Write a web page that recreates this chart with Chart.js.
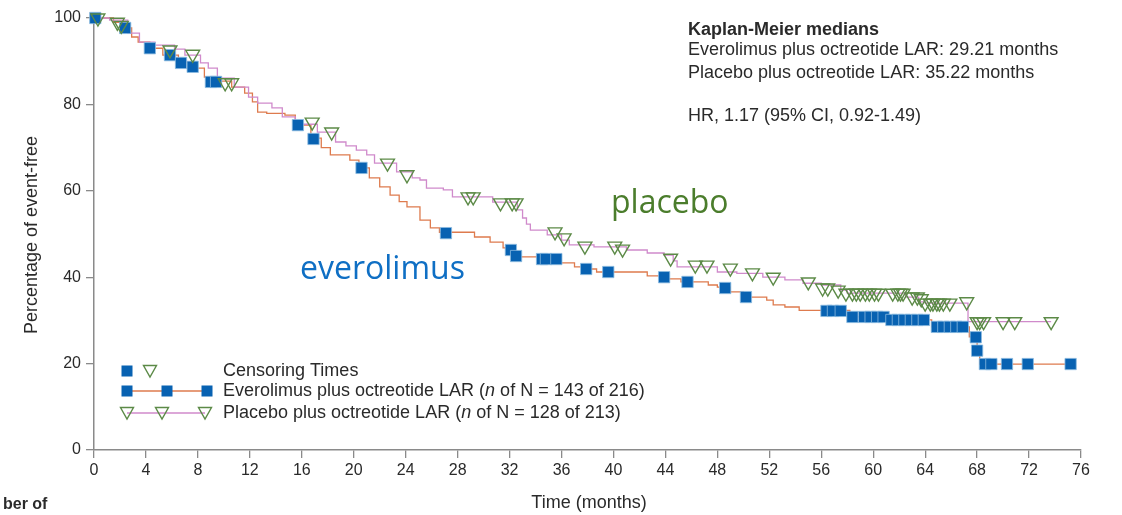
<!DOCTYPE html>
<html>
<head>
<meta charset="utf-8">
<script src="https://cdn.jsdelivr.net/npm/chart.js@4"></script>
<style>
  html, body { margin: 0; padding: 0; background: #fff; }
  #wrap { width: 1122px; height: 515px; }
</style>
</head>
<body>
<div id="wrap"><canvas id="kmChart" width="1122" height="515"></canvas></div>
<script>
// ---------------- DATA ----------------
const xTicks = [0, 4, 8, 12, 16, 20, 24, 28, 32, 36, 40, 44, 48, 52, 56, 60, 64, 68, 72, 76];
const yTicks = [0, 20, 40, 60, 80, 100];

// everolimus step curve (time in months, % event-free after the step)
const evTime = [0, 1.5, 2.4, 2.9, 3.4, 4.3, 5.3, 6.5, 7.6, 8.5, 9.0, 10.6, 11.6, 12.2, 12.6, 13.3, 14.7, 15.5, 16.7, 17.5,
  18.2, 19.7, 20.4, 21.2, 22.0, 22.8, 23.5, 24.1, 25.1, 25.9, 26.6, 29.3, 30.5, 31.5, 32.3, 35.9, 37.0, 37.7, 38.7, 42.6,
  44.2, 45.2, 47.3, 48.0, 49.0, 50.0, 51.8, 52.3, 53.2, 54.3, 58.2, 61.2, 64.5, 67.4, 68.0, 68.2, 75.2];
const evSurv = [100, 99.0, 97.7, 95.6, 94.4, 93.0, 91.4, 89.8, 88.4, 86.3, 85.4, 84.0, 82.6, 80.6, 78.2, 77.9, 77.5, 75.2, 72.2, 70.0,
  68.3, 67.1, 65.3, 63.0, 60.9, 59.0, 57.5, 56.3, 53.2, 51.4, 50.4, 49.3, 48.1, 46.8, 44.7, 43.3, 42.4, 41.9, 41.2, 40.3,
  39.6, 38.9, 38.2, 37.7, 36.6, 35.4, 34.7, 33.6, 33.1, 32.3, 30.8, 30.1, 28.5, 26.2, 23.0, 19.9, 19.9];

// placebo step curve
const pbTime = [0, 1.2, 2.6, 3.5, 4.7, 6.2, 7.0, 8.2, 8.8, 9.5, 10.8, 11.9, 12.6, 13.7, 14.5, 15.5, 17.2, 18.6, 19.4, 20.2,
  21.0, 21.6, 23.3, 24.5, 25.1, 25.6, 26.9, 27.6, 30.7, 32.6, 33.0, 33.3, 33.6, 34.9, 36.0, 36.6, 38.5, 41.0, 42.6, 43.9,
  44.6, 44.9, 48.0, 49.5, 51.5, 53.2, 54.6, 56.0, 57.5, 58.0, 62.5, 63.5, 64.0, 67.3, 73.7];
const pbSurv = [100, 99.5, 96.5, 94.4, 93.7, 92.8, 91.4, 89.6, 88.4, 86.1, 84.0, 81.7, 80.3, 79.2, 77.1, 75.4, 73.6, 71.3, 70.4, 69.4,
  68.3, 66.4, 64.4, 63.0, 62.5, 60.6, 60.2, 58.6, 57.4, 55.6, 53.7, 52.3, 50.9, 49.8, 48.6, 47.5, 47.0, 46.3, 45.6, 45.1,
  43.8, 42.4, 41.2, 40.9, 40.0, 39.4, 38.6, 38.2, 37.0, 36.3, 35.4, 34.3, 34.0, 29.7, 29.7];

// censoring marks
const evCensorTime = [0.1, 2.4, 4.3, 5.85, 6.7, 7.6, 9.0, 9.4, 15.7, 16.9, 20.6, 27.1, 32.1, 32.5, 34.5, 34.8, 35.6, 37.9, 39.6,
  43.9, 45.7, 48.6, 50.2, 56.4, 56.9, 57.5, 58.4, 59.3, 59.8, 60.3, 60.8, 61.4, 61.9, 62.4, 62.9, 63.4, 63.9, 64.9, 65.4,
  65.9, 66.4, 66.9, 67.9, 68.0, 68.6, 69.1, 70.3, 71.9, 75.2];
const evCensorSurv = [100, 97.7, 93.0, 91.4, 89.6, 88.7, 85.2, 85.2, 75.2, 72.0, 65.3, 50.2, 46.3, 44.9, 44.2, 44.2, 44.2, 41.9, 41.2,
  40.0, 38.9, 37.5, 35.4, 32.2, 32.2, 32.2, 30.8, 30.8, 30.8, 30.8, 30.8, 30.1, 30.1, 30.1, 30.1, 30.1, 30.1, 28.5, 28.5,
  28.5, 28.5, 28.5, 26.1, 23.0, 19.9, 19.9, 19.9, 19.9, 19.9];

const pbCensorTime = [0.3, 1.8, 2.1, 5.85, 7.6, 10.1, 10.6, 16.8, 18.3, 22.6, 24.1, 28.8, 29.2, 31.3, 32.2, 32.5, 35.5, 36.2, 37.8,
  40.1, 40.7, 44.4, 46.3, 47.2, 49.0, 50.7, 52.3, 55.0, 56.1, 56.5, 57.3, 57.9, 58.4, 58.7, 59.0, 59.4, 59.7, 60.1, 60.4,
  61.5, 61.9, 62.1, 62.3, 63.0, 63.4, 63.7, 64.0, 64.4, 64.6, 64.9, 65.1, 65.4, 65.9, 67.2, 68.0, 68.2, 68.5, 70.0, 70.9, 73.7];
const pbCensorSurv = [100, 99.0, 98.3, 92.6, 91.6, 85.0, 85.0, 75.9, 73.6, 66.4, 63.7, 58.6, 58.6, 57.2, 57.2, 57.2, 50.5, 49.1, 47.2,
  47.2, 46.5, 44.4, 42.8, 42.8, 42.1, 41.0, 40.0, 38.9, 37.5, 37.5, 37.0, 36.3, 36.3, 36.3, 36.3, 36.3, 36.3, 36.3, 36.3,
  36.3, 36.3, 36.3, 36.3, 35.4, 35.4, 35.0, 34.0, 34.0, 34.0, 34.0, 34.0, 34.0, 34.0, 34.3, 29.7, 29.7, 29.7, 29.7, 29.7, 29.7];

// ---------------- STYLE ----------------
const evLineColor = "#DE7B4E";
const pbLineColor = "#D08ACB";
const squareFill = "#0862B2";
const squareEdge = "#8DBBE0";
const triColor = "#5C8A47";
const axisColor = "#8A8A8A";
const textColor = "#2A2A2A";
const font = "'Liberation Sans', Arial, sans-serif";

function toPoints(xs, ys) {
    return xs.map((x, i) => ({ x: x, y: ys[i] }));
}

// ---------------- ANNOTATION PLUGIN ----------------
const annotations = {
    id: "annotations",
    afterDraw(chart) {
        const ctx = chart.ctx;
        ctx.save();
        ctx.fillStyle = textColor;
        ctx.textBaseline = "middle";

        // axis titles
        ctx.font = "18px " + font;
        ctx.textAlign = "center";
        ctx.fillText("Time (months)", 589, 503);
        ctx.save();
        ctx.translate(32, 235);
        ctx.rotate(-Math.PI / 2);
        ctx.fillText("Percentage of event-free", 0, 0);
        ctx.restore();

        ctx.textAlign = "left";
        ctx.font = "bold 16px " + font;
        ctx.fillText("ber of", 3, 505);

        // Kaplan-Meier medians box
        ctx.font = "bold 18px " + font;
        ctx.fillText("Kaplan-Meier medians", 688, 30);
        ctx.font = "18px " + font;
        ctx.fillText("Everolimus plus octreotide LAR: 29.21 months", 688, 50);
        ctx.fillText("Placebo plus octreotide LAR: 35.22 months", 688, 73);
        ctx.fillText("HR, 1.17 (95% CI, 0.92-1.49)", 688, 116);

        // big labels
        ctx.font = "32px 'Open Sans', sans-serif";
        ctx.fillStyle = "#0F6FC4";
        ctx.fillText("everolimus", 300, 270);
        ctx.fillStyle = "#4B7D2C";
        ctx.fillText("placebo", 611, 204);

        // legend
        const square = (x, y) => {
            ctx.fillStyle = squareFill;
            ctx.fillRect(x - 5.5, y - 5.5, 11, 11);
        };
        const tri = (x, y) => {
            ctx.strokeStyle = triColor;
            ctx.lineWidth = 1.4;
            ctx.beginPath();
            ctx.moveTo(x - 6.5, y - 5.5);
            ctx.lineTo(x + 6.5, y - 5.5);
            ctx.lineTo(x, y + 6);
            ctx.closePath();
            ctx.stroke();
        };
        const line = (x1, x2, y, c) => {
            ctx.strokeStyle = c;
            ctx.lineWidth = 1.3;
            ctx.beginPath();
            ctx.moveTo(x1, y);
            ctx.lineTo(x2, y);
            ctx.stroke();
        };
        square(127, 371);
        tri(150, 371);
        line(127, 207, 391, evLineColor);
        square(127, 391); square(167, 391); square(207, 391);
        line(127, 205, 413, pbLineColor);
        tri(127, 413); tri(162, 413); tri(205, 413);

        ctx.fillStyle = textColor;
        ctx.font = "18px " + font;
        ctx.fillText("Censoring Times", 223, 371);

        const legendRow = (pre, post, y) => {
            let x = 223;
            ctx.font = "18px " + font;
            ctx.fillText(pre, x, y);
            x += ctx.measureText(pre).width;
            ctx.font = "italic 18px " + font;
            ctx.fillText("n", x, y);
            x += ctx.measureText("n").width;
            ctx.font = "18px " + font;
            ctx.fillText(post, x, y);
        };
        legendRow("Everolimus plus octreotide LAR (", " of N = 143 of 216)", 391);
        legendRow("Placebo plus octreotide LAR (", " of N = 128 of 213)", 413);

        ctx.restore();
    }
};

// ---------------- CHART ----------------
new Chart(document.getElementById("kmChart"), {
    type: "scatter",
    data: {
        datasets: [
            {
                label: "Placebo censored",
                data: toPoints(pbCensorTime, pbCensorSurv),
                pointStyle: "triangle",
                rotation: 180,
                pointRadius: 8,
                pointBorderWidth: 1.4,
                pointBackgroundColor: "rgba(0,0,0,0)",
                pointBorderColor: triColor,
                showLine: false,
                clip: false,
                order: 1
            },
            {
                label: "Everolimus censored",
                data: toPoints(evCensorTime, evCensorSurv),
                pointStyle: "rect",
                pointRadius: 8,
                pointBorderWidth: 0.8,
                pointBackgroundColor: squareFill,
                pointBorderColor: squareEdge,
                showLine: false,
                clip: false,
                order: 2
            },
            {
                label: "Placebo",
                data: toPoints(pbTime, pbSurv),
                showLine: true,
                stepped: "before",
                borderColor: pbLineColor,
                borderWidth: 1.3,
                pointRadius: 0,
                clip: false,
                order: 3
            },
            {
                label: "Everolimus",
                data: toPoints(evTime, evSurv),
                showLine: true,
                stepped: "before",
                borderColor: evLineColor,
                borderWidth: 1.3,
                pointRadius: 0,
                clip: false,
                order: 4
            }
        ]
    },
    options: {
        responsive: false,
        animation: false,
        events: [],
        layout: { padding: { top: 18, right: 41, left: 0, bottom: 0 } },
        plugins: {
            legend: { display: false },
            tooltip: { enabled: false }
        },
        scales: {
            x: {
                type: "linear",
                min: xTicks[0],
                max: xTicks[xTicks.length - 1],
                afterFit: s => { s.height = 65; },
                afterBuildTicks: s => { s.ticks = xTicks.map(v => ({ value: v })); },
                grid: { drawOnChartArea: false, color: axisColor, tickLength: 8, lineWidth: 1.3 },
                border: { color: axisColor, width: 1.5 },
                ticks: { color: textColor, font: { family: font, size: 16 }, padding: 3, maxRotation: 0 }
            },
            y: {
                min: yTicks[0],
                max: yTicks[yTicks.length - 1],
                afterFit: s => { s.width = 94; },
                afterBuildTicks: s => { s.ticks = yTicks.map(v => ({ value: v })); },
                grid: { drawOnChartArea: false, color: axisColor, tickLength: 8, lineWidth: 1.3 },
                border: { color: axisColor, width: 1.5 },
                ticks: { color: textColor, font: { family: font, size: 16 }, padding: 5 }
            }
        }
    },
    plugins: [annotations]
});
</script>
</body>
</html>
